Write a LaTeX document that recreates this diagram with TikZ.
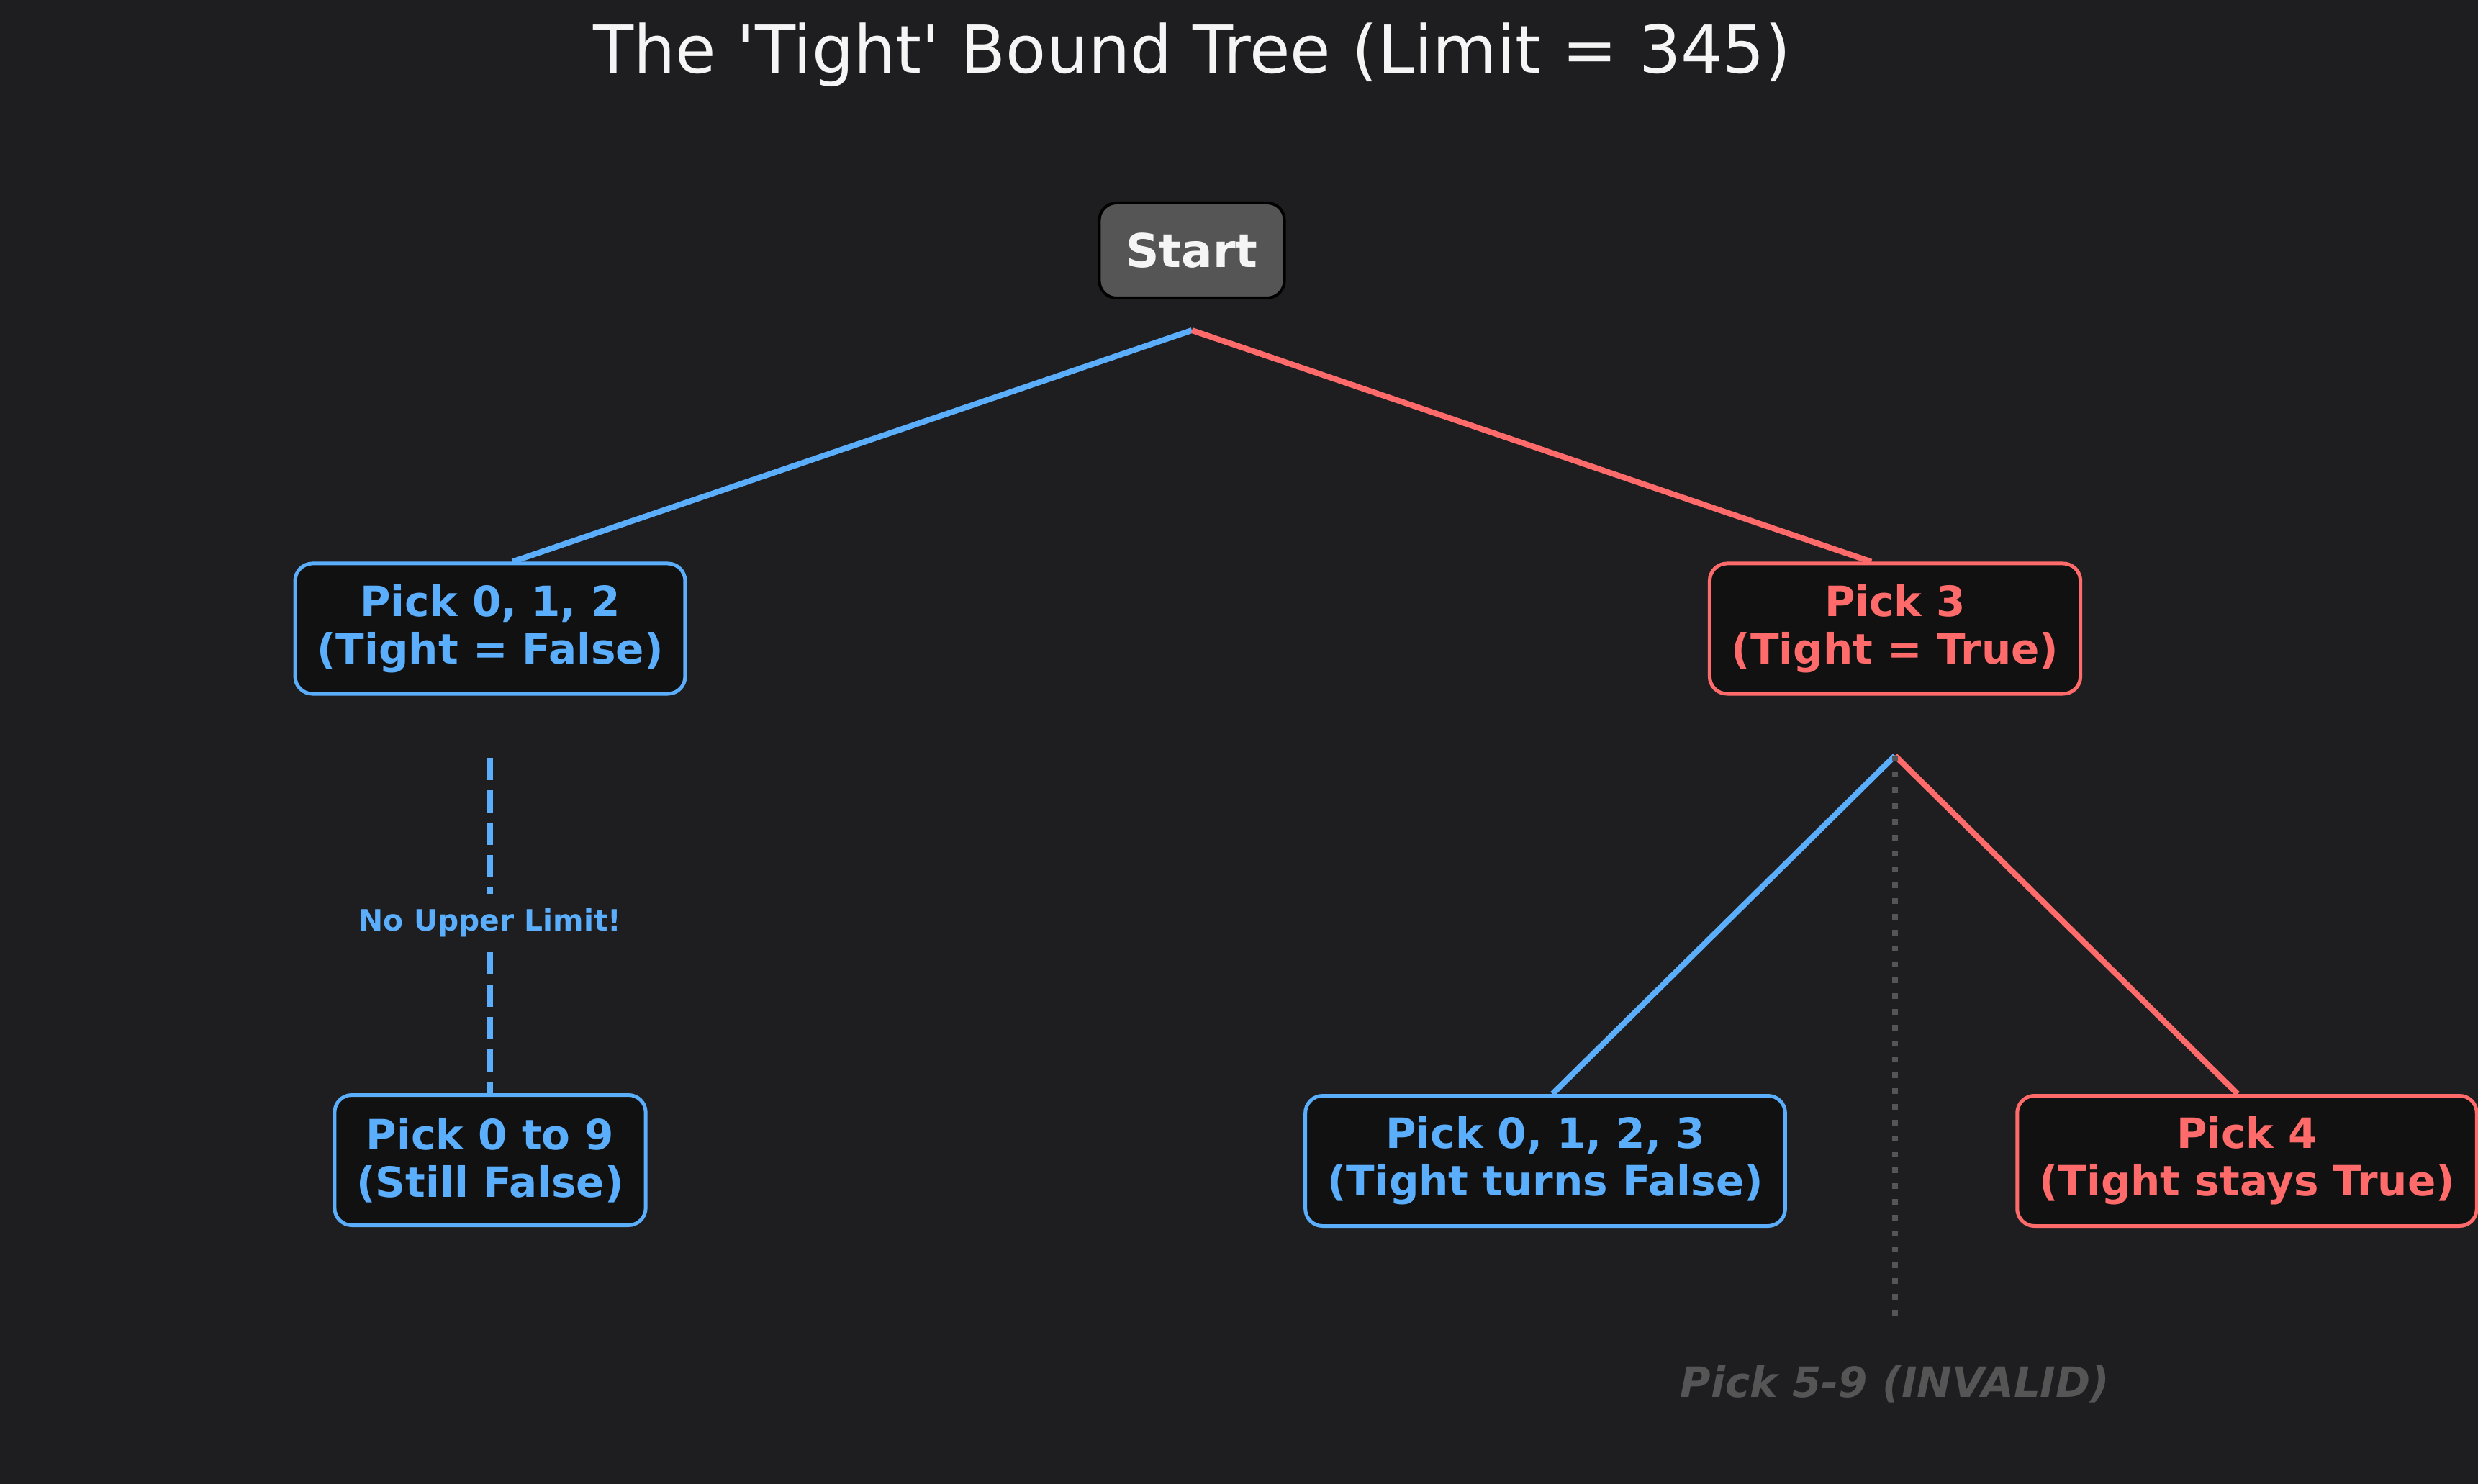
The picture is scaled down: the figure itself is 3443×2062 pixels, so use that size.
\documentclass[tikz,border=0pt]{standalone}
\usepackage{fontspec}
\setmainfont{DejaVu Sans}[Ligatures=TeXOff]
\pgfdeclarelayer{bg}
\pgfsetlayers{bg,main}
\definecolor{bgc}{HTML}{1E1E20}
\definecolor{boxfill}{HTML}{111111}
\definecolor{tblue}{HTML}{5BAEFB}
\definecolor{tred}{HTML}{FF6B6B}
\definecolor{tgray}{HTML}{555555}
\definecolor{twhite}{HTML}{F5F5F5}
\tikzset{
  base/.style={rounded corners=6pt, line width=1.25pt, fill=boxfill, align=center,
    font=\fontsize{14.5}{16.5}\selectfont\bfseries, minimum height=45.25pt, inner xsep=7.6pt},
  bluebox/.style={base, draw=tblue, text=tblue},
  redbox/.style={base, draw=tred, text=tred},
  startbox/.style={rounded corners=6pt, line width=1pt, draw=black, fill=tgray, text=twhite,
    font=\fontsize{16.1}{19}\selectfont\bfseries, minimum height=33pt, inner xsep=9.25pt},
  blueline/.style={draw=tblue, line width=2pt},
  redline/.style={draw=tred, line width=2pt},
  bluedash/.style={draw=tblue, line width=2.2pt, dash pattern=on 7.75pt off 3.5pt},
  dotline/.style={draw=tgray, line width=2pt, dash pattern=on 2pt off 3.5pt},
}
\begin{document}
\begin{tikzpicture}[x=0.25pt, y=-0.25pt]
\begin{pgfonlayer}{bg}
\fill[bgc] (0,0) rectangle (3443,2062);
\end{pgfonlayer}
\useasboundingbox (0,0) rectangle (3443,2062);

\node[text=twhite, font=\fontsize{22.95}{27}\selectfont] (title) at (1656,76) {The 'Tight' Bound Tree (Limit = 345)};

\node[startbox] (start) at (1656,348) {Start};
\node[bluebox] (L1) at (681,873.5) {Pick 0, 1, 2\\(Tight = False)};
\node[redbox] (R1) at (2633,873.5) {Pick 3\\(Tight = True)};
\node[bluebox] (L2) at (681,1612) {Pick 0 to 9\\(Still False)};
\node[bluebox] (M2) at (2147,1613) {Pick 0, 1, 2, 3\\(Tight turns False)};
\node[redbox] (R2) at (3122,1613) {Pick 4\\(Tight stays True)};

\coordinate (apex) at (1656,459);
\coordinate (apex2) at (2633,1050);
\coordinate (ltop) at (681,1053);
\coordinate (dotend) at (2633,1834);

\begin{pgfonlayer}{bg}
\draw[blueline] (apex) -- ([xshift=7.75pt]L1.north);
\draw[redline] (apex) -- ([xshift=-8.25pt]R1.north);
\draw[blueline] (apex2) -- ([xshift=2.5pt]M2.north);
\draw[redline] (apex2) -- ([xshift=-3.25pt]R2.north);
\draw[dotline] (apex2) -- (dotend);
\draw[bluedash] (ltop) -- (L2.north);
\end{pgfonlayer}

\node[fill=bgc, text=tblue, font=\fontsize{10.2}{12}\selectfont\bfseries, minimum height=20pt, inner xsep=1pt] (lim) at (681,1282) {No Upper Limit!};

\node[text=tgray, font=\fontsize{14.5}{16.5}\selectfont\bfseries\itshape] (inv) at (2633,1923) {Pick 5-9 (INVALID)};
\end{tikzpicture}
\end{document}
